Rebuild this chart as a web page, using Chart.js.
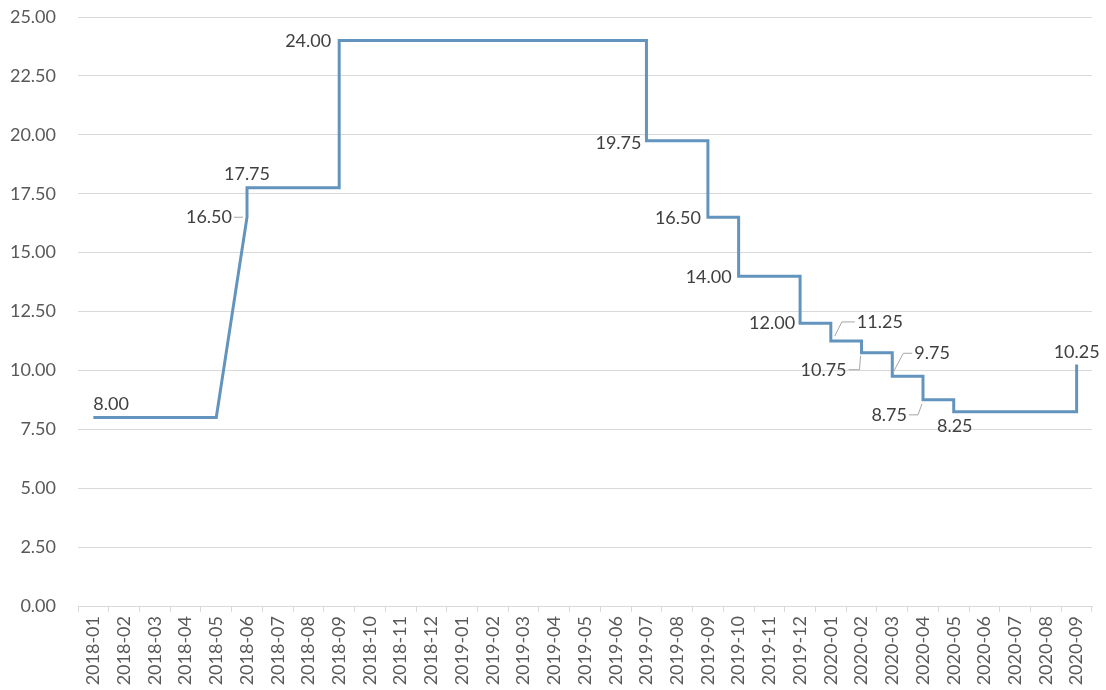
<!DOCTYPE html>
<html>
<head>
<meta charset="utf-8">
<script src="https://cdn.jsdelivr.net/npm/chart.js@4/dist/chart.umd.min.js"></script>
<style>
    body { margin: 0; background: #fff; }
    canvas { display: block; }
</style>
</head>
<body>
<canvas id="rateChart" width="1106" height="690"></canvas>
<script>
// Monthly categories on the x axis
const months = [
    '2018-01', '2018-02', '2018-03', '2018-04', '2018-05', '2018-06', '2018-07', '2018-08', '2018-09',
    '2018-10', '2018-11', '2018-12', '2019-01', '2019-02', '2019-03', '2019-04', '2019-05', '2019-06',
    '2019-07', '2019-08', '2019-09', '2019-10', '2019-11', '2019-12', '2020-01', '2020-02', '2020-03',
    '2020-04', '2020-05', '2020-06', '2020-07', '2020-08', '2020-09'
];

// Rate path: month of each point and its value (steps share a month)
const pointMonths = [
    '2018-01', '2018-05', '2018-06', '2018-06', '2018-09', '2018-09', '2019-07', '2019-07',
    '2019-09', '2019-09', '2019-10', '2019-10', '2019-12', '2019-12', '2020-01', '2020-01',
    '2020-02', '2020-02', '2020-03', '2020-03', '2020-04', '2020-04', '2020-05', '2020-05',
    '2020-09', '2020-09'
];
const pointRates = [
    8.00, 8.00, 16.50, 17.75, 17.75, 24.00, 24.00, 19.75,
    19.75, 16.50, 16.50, 14.00, 14.00, 12.00, 12.00, 11.25,
    11.25, 10.75, 10.75, 9.75, 9.75, 8.75, 8.75, 8.25,
    8.25, 10.25
];

// Y axis tick values
const yTicks = [0, 2.5, 5, 7.5, 10, 12.5, 15, 17.5, 20, 22.5, 25];

// Where each value label sits next to its point (pixels), with optional leader line
const labelPlacement = [
    { dx: 0, dy: -13, align: 'left' },
    { dx: -15, dy: 0, align: 'right', leader: [[-13, 0], [-4, 0]] },
    { dx: 0, dy: -14, align: 'center' },
    { dx: -8, dy: 1, align: 'right' },
    { dx: -5, dy: 2, align: 'right' },
    { dx: -7, dy: 1, align: 'right' },
    { dx: -7, dy: 1, align: 'right' },
    { dx: -5, dy: 0, align: 'right' },
    { dx: 26, dy: -19, align: 'left', leader: [[4, -5], [11, -19], [24, -19]] },
    { dx: -15, dy: 17, align: 'right', leader: [[-13, 17], [-2, 17], [-1, 3]] },
    { dx: 22, dy: -23, align: 'left', leader: [[1, -4], [11, -23], [20, -23]] },
    { dx: -16, dy: 15, align: 'right', leader: [[-14, 15], [-5, 15], [-1, 4]] },
    { dx: 1, dy: 15, align: 'center' },
    { dx: 0, dy: -12, align: 'center' }
];

const FONT = 'Lato, "Open Sans", sans-serif';

// Draws a value label at the first point of every new level
const valueLabels = {
    id: 'valueLabels',
    afterDatasetsDraw(chart) {
        const ctx = chart.ctx;
        const points = chart.getDatasetMeta(0).data;
        let n = 0;
        ctx.save();
        ctx.font = '18px ' + FONT;
        ctx.textBaseline = 'middle';
        points.forEach((pt, i) => {
            if (i > 0 && pointRates[i] === pointRates[i - 1]) return;
            const place = labelPlacement[n++];
            if (!place) return;
            if (place.leader) {
                ctx.strokeStyle = '#a6a6a6';
                ctx.lineWidth = 1;
                ctx.beginPath();
                place.leader.forEach(([lx, ly], k) => {
                    if (k === 0) ctx.moveTo(pt.x + lx, pt.y + ly);
                    else ctx.lineTo(pt.x + lx, pt.y + ly);
                });
                ctx.stroke();
            }
            ctx.fillStyle = '#404040';
            ctx.textAlign = place.align;
            ctx.fillText(pointRates[i].toFixed(2), pt.x + place.dx, pt.y + place.dy);
        });
        ctx.restore();
    }
};

const ctx = document.getElementById('rateChart').getContext('2d');
new Chart(ctx, {
    type: 'line',
    data: {
        labels: months,
        datasets: [{
            data: pointMonths.map((m, i) => ({ x: m, y: pointRates[i] })),
            borderColor: '#6394bd',
            borderWidth: 3,
            borderJoinStyle: 'miter',
            pointRadius: 0,
            tension: 0,
            fill: false
        }]
    },
    options: {
        responsive: false,
        animation: false,
        layout: { padding: { top: 17, right: 14, bottom: 0, left: 0 } },
        plugins: {
            legend: { display: false },
            tooltip: { enabled: false }
        },
        scales: {
            x: {
                type: 'category',
                offset: true,
                afterFit: (scale) => {
                    scale.height = 84;
                    scale.paddingLeft = 0;
                    scale.paddingRight = 0;
                    scale.paddingTop = 0;
                    scale.paddingBottom = 0;
                },
                grid: {
                    offset: true,
                    drawOnChartArea: false,
                    drawTicks: true,
                    tickLength: 6,
                    color: '#d9d9d9'
                },
                border: { display: true, color: '#d9d9d9' },
                ticks: {
                    autoSkip: false,
                    minRotation: 90,
                    maxRotation: 90,
                    padding: 4,
                    color: '#595959',
                    font: { family: FONT, size: 18 }
                }
            },
            y: {
                min: yTicks[0],
                max: yTicks[yTicks.length - 1],
                afterFit: (scale) => {
                    scale.width = 78;
                    scale.paddingTop = 0;
                    scale.paddingBottom = 0;
                },
                afterBuildTicks: (scale) => { scale.ticks = yTicks.map(v => ({ value: v })); },
                grid: { color: '#d9d9d9', drawTicks: false },
                border: { display: false },
                ticks: {
                    padding: 22,
                    color: '#595959',
                    font: { family: FONT, size: 18 },
                    callback: (v) => Number(v).toFixed(2)
                }
            }
        }
    },
    plugins: [valueLabels]
});
</script>
</body>
</html>
